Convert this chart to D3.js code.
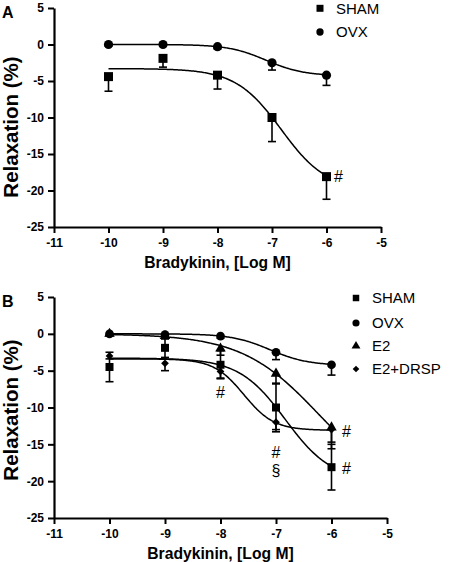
<!DOCTYPE html>
<html>
<head>
<meta charset="utf-8">
<script src="https://cdn.jsdelivr.net/npm/d3@7"></script>
<style>
  html, body { margin: 0; padding: 0; background: #fff; }
  svg { display: block; }
  text { font-family: Arial, "Liberation Sans", Helvetica, sans-serif; fill: #000; }
</style>
</head>
<body>
<svg id="chart" width="450" height="562"></svg>
<script>
// ---------- DATA ----------
const doses = [-10, -9, -8, -7, -6];
const xTicks = [-11, -10, -9, -8, -7, -6, -5];
const yTicks = [5, 0, -5, -10, -15, -20, -25];

// Panel A
const aShamMean = [-4.4, -1.9, -4.2, -10.0, -18.1];
const aShamSem  = [2.0, 1.2, 1.9, 3.3, 3.1];
const aOvxMean  = [0.0, 0.0, -0.3, -2.5, -4.2];
const aOvxSem   = [0.2, 0.2, 0.3, 1.0, 1.4];

// Panel B
const bShamMean = [-4.5, -1.9, -4.2, -10.0, -18.1];
const bShamSem  = [2.0, 1.3, 1.9, 3.3, 3.1];
const bOvxMean  = [0.0, -0.1, -0.3, -2.5, -4.2];
const bOvxSem   = [0.2, 0.2, 0.3, 1.0, 1.4];
const bE2Mean   = [0.0, -0.3, -2.0, -5.4, -12.7];
const bE2Sem    = [0.3, 0.4, 0.9, 1.4, 2.0];
const bDrspMean = [-3.0, -4.0, -5.1, -12.0, -13.0];
const bDrspSem  = [0.4, 1.0, 0.9, 1.0, 2.6];

// Fitted sigmoid parameters [top, bottom, logEC50, hill]
const fitSham = [-3.3, -20.0, -6.83, 1.04];
const fitOvx  = [0.0, -4.3, -7.11, 1.26];
const fitE2   = [0.0, -22.0, -6.22, 0.62];
const fitDrsp = [-3.4, -13.1, -7.58, 1.6];

const legendA = ["SHAM", "OVX"];
const legendB = ["SHAM", "OVX", "E2", "E2+DRSP"];

// ---------- DRAW ----------
const svg = d3.select("#chart");

const symSquare = d3.symbol().type(d3.symbolSquare);
const symCircle = d3.symbol().type(d3.symbolCircle);
const symTriangle = d3.symbol().type(d3.symbolTriangle);
const symDiamond = d3.symbol().type(d3.symbolSquare);

function sigmoid(p, x) {
  const [top, bottom, ec, h] = p;
  return top + (bottom - top) / (1 + Math.pow(10, (ec - x) * h));
}

function drawMarker(g, shape, cx, cy, size) {
  let path, rot = 0;
  if (shape === "square") path = symSquare.size(size)();
  else if (shape === "circle") path = symCircle.size(size)();
  else if (shape === "triangle") path = symTriangle.size(size)();
  else { path = symDiamond.size(size)(); rot = 45; }
  g.append("path")
    .attr("d", path)
    .attr("transform", `translate(${cx},${cy}) rotate(${rot})`)
    .attr("fill", "#000");
}

function drawPanel(cfg) {
  const g = svg.append("g");
  const x = d3.scaleLinear().domain([-11, -5]).range([cfg.x0, cfg.x1]);
  const y = d3.scaleLinear().domain([5, -25]).range([cfg.y0, cfg.y1]);

  // axes
  const yAxis = d3.axisLeft(y).tickValues(yTicks).tickSize(6).tickSizeOuter(0)
    .tickPadding(4).tickFormat(d => String(d));
  const xAxis = d3.axisBottom(x).tickValues(xTicks).tickSize(6).tickSizeOuter(0)
    .tickPadding(5).tickFormat(d => String(d));

  const ya = g.append("g").attr("transform", `translate(${cfg.x0},0)`).call(yAxis);
  const xa = g.append("g").attr("transform", `translate(0,${cfg.y1})`).call(xAxis);
  [ya, xa].forEach(a => {
    a.select(".domain").attr("stroke", "#000").attr("stroke-width", 2.2);
    a.selectAll(".tick line").attr("stroke", "#000").attr("stroke-width", 2);
    a.selectAll(".tick text").attr("font-size", 12).attr("font-weight", "bold")
      .attr("fill", "#000").style("font-family", "Arial, 'Liberation Sans', sans-serif");
  });

  // curves
  const line = d3.line().x(d => x(d[0])).y(d => y(d[1]));
  cfg.series.forEach(s => {
    const pts = d3.range(0, 201).map(i => {
      const xv = -10 + i * 4 / 200;
      return [xv, sigmoid(s.fit, xv)];
    });
    g.append("path").attr("d", line(pts)).attr("fill", "none")
      .attr("stroke", "#000").attr("stroke-width", 1.5);
  });

  // error bars
  const capW = 4;
  cfg.series.forEach(s => {
    doses.forEach((dv, i) => {
      const m = s.mean[i], e = s.sem[i];
      const ends = s.both ? [m - e, m + e] : [m - e];
      ends.forEach(v => {
        g.append("line").attr("x1", x(dv)).attr("x2", x(dv))
          .attr("y1", y(m)).attr("y2", y(v))
          .attr("stroke", "#000").attr("stroke-width", 1.6);
        g.append("line").attr("x1", x(dv) - capW).attr("x2", x(dv) + capW)
          .attr("y1", y(v)).attr("y2", y(v))
          .attr("stroke", "#000").attr("stroke-width", 1.6);
      });
    });
  });

  // markers
  cfg.series.forEach(s => {
    doses.forEach((dv, i) => {
      drawMarker(g, s.shape, x(dv), y(s.mean[i]), s.size);
    });
  });

  // annotations
  cfg.notes.forEach(n => {
    g.append("text").attr("x", x(n[0]) + n[2]).attr("y", y(n[1]))
      .attr("dy", "0.35em").attr("text-anchor", "middle")
      .attr("font-size", 16).text(n[3]);
  });

  // axis titles
  g.append("text").attr("x", (cfg.x0 + cfg.x1) / 2).attr("y", cfg.y1 + 41)
    .attr("text-anchor", "middle").attr("font-size", 15.7).attr("font-weight", "bold")
    .text("Bradykinin, [Log M]");
  g.append("text")
    .attr("transform", `translate(18,${cfg.ytitleY}) rotate(-90)`)
    .attr("text-anchor", "middle").attr("font-size", 20.5).attr("font-weight", "bold")
    .text("Relaxation (%)");
  g.append("text").attr("x", 2).attr("y", cfg.y0 + 10).attr("font-size", 16)
    .attr("font-weight", "bold").text(cfg.letter);

  // legend
  cfg.legend.forEach((name, i) => {
    const s = cfg.series[i];
    const ly = cfg.legY[i];
    drawMarker(g, s.shape, cfg.legX, ly, s.legSize);
    g.append("text").attr("x", cfg.legX + 16).attr("y", ly).attr("dy", "0.36em")
      .attr("font-size", 15).text(name);
  });
}

drawPanel({
  x0: 54, x1: 381, y0: 8, y1: 227, ytitleY: 127, letter: "A",
  legX: 320, legY: [8.3, 32], legend: legendA,
  series: [
    { mean: aShamMean, sem: aShamSem, fit: fitSham, shape: "square", size: 81, legSize: 49, both: false },
    { mean: aOvxMean, sem: aOvxSem, fit: fitOvx, shape: "circle", size: 66, legSize: 42, both: false }
  ],
  notes: [[-6, -18.1, 12, "#"]]
});

drawPanel({
  x0: 54, x1: 387, y0: 297, y1: 518, ytitleY: 410, letter: "B",
  legX: 356, legY: [298, 323, 346, 369], legend: legendB,
  series: [
    { mean: bShamMean, sem: bShamSem, fit: fitSham, shape: "square", size: 64, legSize: 42, both: true },
    { mean: bOvxMean, sem: bOvxSem, fit: fitOvx, shape: "circle", size: 60, legSize: 40, both: false },
    { mean: bE2Mean, sem: bE2Sem, fit: fitE2, shape: "triangle", size: 48, legSize: 34, both: false },
    { mean: bDrspMean, sem: bDrspSem, fit: fitDrsp, shape: "diamond", size: 30, legSize: 22, both: false }
  ],
  notes: [[-8, -8.0, 0, "#"], [-7, -16.1, 0, "#"], [-7, -18.6, 0, "§"],
          [-6, -13.3, 15, "#"], [-6, -18.3, 15, "#"]]
});
</script>
</body>
</html>
